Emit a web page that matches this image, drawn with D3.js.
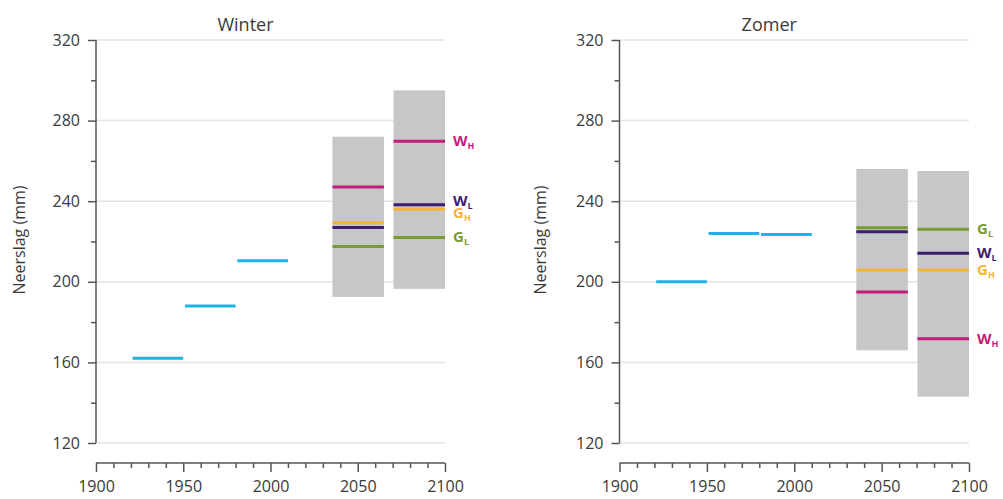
<!DOCTYPE html>
<html><head><meta charset="utf-8">
<script src="https://cdn.jsdelivr.net/npm/d3@7"></script>
<style>
html,body{margin:0;padding:0;background:#fff;}
svg text{font-family:"Open Sans","Lato",sans-serif;}
</style></head>
<body><svg id="c" width="1003" height="499"></svg>
<script>
// ---- data ----
const panelTitles = ["Winter", "Zomer"];
const yLabel = "Neerslag (mm)";
const yMajorTicks = [120, 160, 200, 240, 280, 320];
const yMinorTicks = [140, 180, 220, 260, 300];
const xMajorTicks = [1900, 1950, 2000, 2050, 2100];
const xMinorTicks = [1910, 1920, 1930, 1940, 1960, 1970, 1980, 1990, 2010, 2020, 2030, 2040, 2060, 2070, 2080, 2090];

const obsStart = [1921, 1951, 1981];
const obsEnd   = [1950, 1980, 2010];
const winterObs = [162, 188, 210.5];
const zomerObs  = [200, 224, 223.5];

const boxStart = [2035.5, 2070.5];
const boxEnd   = [2065, 2100];
const winterBoxLow  = [192.5, 196.5];
const winterBoxHigh = [272, 295];
const zomerBoxLow   = [166, 143];
const zomerBoxHigh  = [256, 255];

const scenarioNames = ["G_L", "G_H", "W_L", "W_H"];
const scenarioMain  = ["G", "G", "W", "W"];
const scenarioSub   = ["L", "H", "L", "H"];
const winterScen = { G_L: [217.5, 222], G_H: [229.3, 236], W_L: [227, 238.2], W_H: [247, 269.7] };
const zomerScen  = { G_L: [226.8, 226.1], G_H: [205.8, 205.8], W_L: [224.8, 214.2], W_H: [194.9, 171.7] };

// ---- styles ----
const scenColor = { G_L: "#7a9b2e", G_H: "#f5b335", W_L: "#3e1c6e", W_H: "#c41b7c" };
const obsColor = "#1db2e8";
const boxColor = "#c6c7c9";
const gridColor = "#e4e4e4";
const axisColor = "#555";
const textColor = "#3a3a3a";

const svg = d3.select("#c");

const panels = [
  { title: panelTitles[0], obs: winterObs, low: winterBoxLow, high: winterBoxHigh, scen: winterScen, x0: 96, x1: 445, labelX: 20 },
  { title: panelTitles[1], obs: zomerObs, low: zomerBoxLow, high: zomerBoxHigh, scen: zomerScen, x0: 619.5, x1: 969, labelX: 541 }
];

panels.forEach(p => {
  const g = svg.append("g");
  const x = d3.scaleLinear().domain([1900, 2100]).range([p.x0, p.x1]);
  const y = d3.scaleLinear().domain([120, 320]).range([443, 40]);

  // grid
  g.selectAll(".grid").data(yMajorTicks).join("line")
    .attr("x1", p.x0).attr("x2", p.x1)
    .attr("y1", d => y(d)).attr("y2", d => y(d))
    .attr("stroke", gridColor).attr("stroke-width", 1.5);

  // boxes
  boxStart.forEach((s, i) => {
    g.append("rect")
      .attr("x", x(s)).attr("width", x(boxEnd[i]) - x(s))
      .attr("y", y(p.high[i])).attr("height", y(p.low[i]) - y(p.high[i]))
      .attr("fill", boxColor);
  });

  // scenario lines
  scenarioNames.forEach(n => {
    p.scen[n].forEach((v, i) => {
      g.append("line")
        .attr("x1", x(boxStart[i])).attr("x2", x(boxEnd[i]))
        .attr("y1", y(v)).attr("y2", y(v))
        .attr("stroke", scenColor[n]).attr("stroke-width", 3);
    });
  });

  // observed lines
  obsStart.forEach((s, i) => {
    g.append("line")
      .attr("x1", x(s)).attr("x2", x(obsEnd[i]))
      .attr("y1", y(p.obs[i])).attr("y2", y(p.obs[i]))
      .attr("stroke", obsColor).attr("stroke-width", 3);
  });

  // scenario labels with dodge
  let labs = scenarioNames.map((n, k) => ({ n, k, y: y(p.scen[n][1]) }));
  labs.sort((a, b) => a.y - b.y);
  const gap = 12;
  for (let iter = 0; iter < 20; iter++) {
    for (let i = 1; i < labs.length; i++) {
      const d = labs[i].y - labs[i - 1].y;
      if (d < gap) {
        const m = (labs[i].y + labs[i - 1].y) / 2;
        labs[i - 1].y = m - gap / 2;
        labs[i].y = m + gap / 2;
      }
    }
  }
  labs.forEach(l => {
    const t = g.append("text")
      .attr("x", x(2100) + 8).attr("y", l.y + 5)
      .attr("fill", scenColor[l.n])
      .attr("font-size", 15).attr("font-weight", 700);
    t.append("tspan").text(scenarioMain[l.k]);
    t.append("tspan").attr("dy", 3).attr("font-size", 9).text(scenarioSub[l.k]);
  });

  // y axis
  const ya = g.append("g").attr("transform", `translate(${p.x0},0)`)
    .call(d3.axisLeft(y).tickValues(yMajorTicks).tickSize(8).tickPadding(8).tickFormat(d3.format("d")));
  ya.select(".domain").attr("stroke", axisColor).attr("stroke-width", 1.5).attr("d", `M0,${y(320)}V${y(120)}`);
  ya.selectAll(".tick line").attr("stroke", axisColor).attr("stroke-width", 1.5);
  ya.selectAll(".tick text").attr("fill", textColor).attr("font-size", 16);
  const yb = g.append("g").attr("transform", `translate(${p.x0},0)`)
    .call(d3.axisLeft(y).tickValues(yMinorTicks).tickSize(5).tickFormat(""));
  yb.select(".domain").remove();
  yb.selectAll(".tick line").attr("stroke", axisColor).attr("stroke-width", 1.5);

  // x axis
  const xa = g.append("g").attr("transform", `translate(0,463)`)
    .call(d3.axisBottom(x).tickValues(xMajorTicks).tickSize(9).tickPadding(9).tickFormat(d3.format("d")));
  xa.select(".domain").attr("stroke", axisColor).attr("stroke-width", 1.5).attr("d", `M${p.x0},0H${p.x1}`);
  xa.selectAll(".tick line").attr("stroke", axisColor).attr("stroke-width", 1.5);
  xa.selectAll(".tick text").attr("fill", textColor).attr("font-size", 16);
  const xb = g.append("g").attr("transform", `translate(0,463)`)
    .call(d3.axisBottom(x).tickValues(xMinorTicks).tickSize(5).tickFormat(""));
  xb.select(".domain").remove();
  xb.selectAll(".tick line").attr("stroke", axisColor).attr("stroke-width", 1.5);

  // title
  g.append("text").attr("x", (p.x0 + p.x1) / 2 - 25).attr("y", 31)
    .attr("text-anchor", "middle").attr("fill", textColor).attr("font-size", 18).text(p.title);

  // y label
  g.append("text").attr("transform", `translate(${p.labelX + 5},240) rotate(-90)`)
    .attr("text-anchor", "middle").attr("fill", textColor).attr("font-size", 16).text(yLabel);
});
</script></body></html>
